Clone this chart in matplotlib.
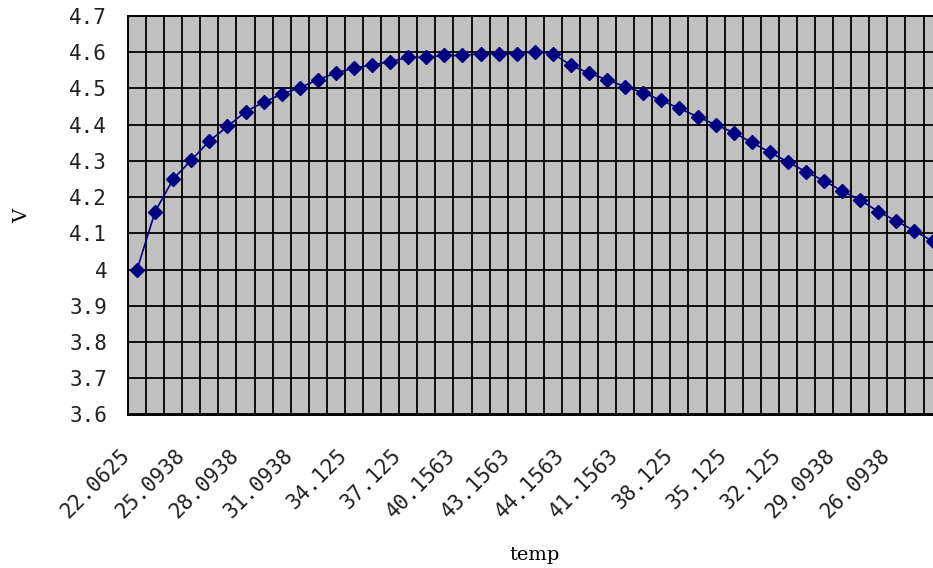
import matplotlib
matplotlib.use("Agg")
import matplotlib.pyplot as plt
import matplotlib.transforms as mtransforms

# Category labels (temperature); only every third is shown on the axis
temps = ["22.0625", "23.0625", "24.0938", "25.0938", "26.0938", "27.0938",
         "28.0938", "29.0938", "30.0938", "31.0938", "32.125", "33.125",
         "34.125", "35.125", "36.125", "37.125", "38.125", "39.1563",
         "40.1563", "41.1563", "42.1563", "43.1563", "44.1563", "45.1563",
         "44.1563", "43.1563", "42.1563", "41.1563", "40.1563", "39.1563",
         "38.125", "37.125", "36.125", "35.125", "34.125", "33.125",
         "32.125", "31.0938", "30.0938", "29.0938", "28.0938", "27.0938",
         "26.0938", "25.0938", "24.0938"]

voltage = [4.000, 4.160, 4.250, 4.302, 4.355, 4.395, 4.436, 4.462, 4.484,
           4.502, 4.524, 4.543, 4.556, 4.565, 4.574, 4.586, 4.586, 4.591,
           4.591, 4.596, 4.596, 4.596, 4.602, 4.596, 4.564, 4.542, 4.524,
           4.505, 4.488, 4.467, 4.445, 4.422, 4.400, 4.378, 4.351, 4.324,
           4.297, 4.270, 4.245, 4.217, 4.192, 4.160, 4.134, 4.107, 4.078]

y_ticks = [3.6, 3.7, 3.8, 3.9, 4.0, 4.1, 4.2, 4.3, 4.4, 4.5, 4.6, 4.7]
y_tick_labels = ["3.6", "3.7", "3.8", "3.9", "4", "4.1", "4.2", "4.3",
                 "4.4", "4.5", "4.6", "4.7"]

W, H = 933, 568
fig = plt.figure(figsize=(W / 100, H / 100), dpi=100)
fig.patch.set_facecolor("white")

left_px, right_px, top_px, bottom_px = 128, 941.6, 16, 414.5
ax = fig.add_axes([left_px / W, 1 - bottom_px / H,
                   (right_px - left_px) / W, (bottom_px - top_px) / H])
ax.set_facecolor("#C0C0C0")

n = len(voltage)
x = list(range(n))

# grid: vertical at category boundaries, horizontal at y ticks
for k in range(n + 1):
    ax.axvline(k - 0.5, color="black", lw=1.3, zorder=1)
for yv in y_ticks:
    ax.axhline(yv, color="black", lw=1.3, zorder=1)

ax.plot(x, voltage, color="#000080", lw=1.2, marker="D", markersize=6.8,
        markerfacecolor="#000080", markeredgecolor="#000080", zorder=3,
        clip_on=False)

ax.set_xlim(-0.5, n - 0.5)
ax.set_ylim(3.6, 4.7)

ax.set_yticks(y_ticks)
ax.set_yticklabels(y_tick_labels, family="DejaVu Sans Mono", fontsize=15,
                   color="#202020")
ax.tick_params(axis="y", length=0, pad=15)

xt = list(range(0, n, 3))
ax.set_xticks(xt)
ax.set_xticklabels([temps[i] for i in xt], family="DejaVu Sans Mono",
                   fontsize=15, rotation=45, ha="right", va="center",
                   rotation_mode="anchor", color="#202020")
ax.tick_params(axis="x", length=0, pad=27)
off = mtransforms.ScaledTranslation(-10 / 100, 0, fig.dpi_scale_trans)
for lbl in ax.get_xticklabels():
    lbl.set_transform(lbl.get_transform() + off)

for s in ax.spines.values():
    s.set_color("black")
    s.set_linewidth(1.4)

fig.text(22 / W, 1 - 216 / H, "V", rotation=90, ha="center", va="center",
         family="DejaVu Serif", fontsize=14)
fig.text(535 / W, 1 - 555 / H, "temp", ha="center", va="center",
         family="DejaVu Serif", fontsize=14)

fig.savefig("out.png", dpi=100, facecolor="white")
